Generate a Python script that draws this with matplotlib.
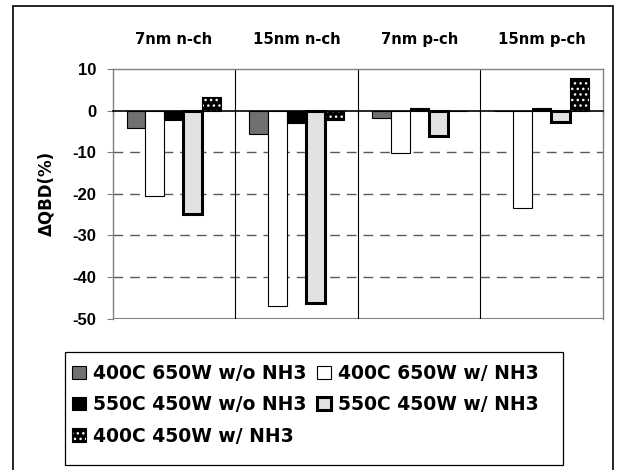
import matplotlib
matplotlib.use("Agg")
import matplotlib.pyplot as plt
from matplotlib.patches import Patch, Rectangle
from matplotlib.legend_handler import HandlerTuple
import numpy as np

plt.rcParams['font.family'] = ['DejaVu Sans']
plt.rcParams['font.weight'] = 'bold'
plt.rcParams['hatch.linewidth'] = 1.0

# data
groups = ["7nm n-ch", "15nm n-ch", "7nm p-ch", "15nm p-ch"]
labels = ["400C 650W w/o NH3", "400C 650W w/ NH3", "550C 450W w/o NH3",
          "550C 450W w/ NH3", "400C 450W w/ NH3"]
s1 = [-4.2, -5.7, -1.9, 0.0]
s2 = [-20.6, -47.0, -10.2, -23.4]
s3 = [-2.3, -3.1, 0.7, 0.7]
s4 = [-24.8, -46.2, -6.2, -2.7]
s5 = [3.3, -2.2, 0.0, 7.9]
yticks = [10, 0, -10, -20, -30, -40, -50]

fig = plt.figure(figsize=(6.21, 4.70), dpi=100)
ax = fig.add_axes([0.1815, 0.3223, 0.7895, 0.531])

x = np.arange(1, len(groups) + 1)
w = 0.155

# grid / dividers
for yv in [-10, -20, -30, -40]:
    ax.axhline(yv, color='#5a5a5a', lw=1.0, ls=(0, (7, 5)), zorder=0)
ax.axhline(-50, color='#808080', lw=1.5, zorder=0)
for xv in [1.5, 2.5, 3.5]:
    ax.axvline(xv, color='black', lw=0.8, zorder=0)

b1 = ax.bar(x - 2 * w, s1, w, color='#707070', edgecolor='black', lw=0.8, zorder=2)
b2 = ax.bar(x - w, s2, w, color='white', edgecolor='black', lw=0.8, zorder=2)
b3 = ax.bar(x, s3, w, color='black', edgecolor='black', lw=0.8, zorder=2)
b4 = ax.bar(x + w, s4, w, color='#e2e2e2', edgecolor='black', lw=2.2, zorder=2)
b5 = ax.bar(x + 2 * w, s5, w, color='black', edgecolor='white', hatch='...', lw=0, zorder=2)
ax.bar(x + 2 * w, s5, w, fill=False, edgecolor='black', lw=0.8, zorder=3)

ax.set_xlim(0.5, 4.5)
ax.set_ylim(-50, 10)
ax.set_yticks(yticks)
ax.set_yticklabels([str(v) for v in yticks], fontsize=12, fontweight='bold',
                   family=['Liberation Sans', 'DejaVu Sans'])
ax.tick_params(axis='y', direction='out', length=4.3, color='#808080', pad=7.5)

ax.spines['bottom'].set_position(('data', 0))
ax.spines['bottom'].set_color('black')
ax.spines['bottom'].set_linewidth(1.2)
ax.spines['bottom'].set_zorder(4)
for s in ['top', 'left', 'right']:
    ax.spines[s].set_color('#808080')
    ax.spines[s].set_linewidth(1.0)
ax.set_xticks([0.5, 1.5, 2.5, 3.5, 4.5])
ax.set_xticklabels([])
ax.tick_params(axis='x', direction='out', length=4, color='black')

for xi, g in zip(x, groups):
    ax.text(xi, 1.116, g, ha='center', va='center', fontsize=10.7, fontweight='bold',
            transform=ax.get_xaxis_transform())

ax.set_ylabel("ΔQBD(%)", fontsize=12, fontweight='bold')
ax.yaxis.set_label_coords(-0.1177, 0.5)

h5 = (Patch(facecolor='black', edgecolor='white', hatch='...', lw=0),
      Patch(fill=False, edgecolor='black', lw=0.8))
handles = [b1, b3, h5, b2, b4]
names = [labels[0], labels[2], labels[4], labels[1], labels[3]]
leg = fig.legend(handles, names, ncol=2, loc='upper left',
                 bbox_to_anchor=(0.1165, 0.226), bbox_transform=fig.transFigure,
                 prop={'size': 13.5, 'weight': 'bold'}, frameon=False,
                 handlelength=0.75, handleheight=0.7,
                 handletextpad=0.37, columnspacing=0.53, labelspacing=0.66,
                 borderpad=0, borderaxespad=0,
                 handler_map={tuple: HandlerTuple(ndivide=1)})

# legend frame and outer chart frame
fig.patches.append(Rectangle((65 / 621, 1 - 465 / 470), 498 / 621, 113 / 470,
                             transform=fig.transFigure, fill=False,
                             edgecolor='black', lw=0.9))
fig.patches.append(Rectangle((0.021, -0.01), 0.966, 0.997, transform=fig.transFigure,
                             fill=False, edgecolor='black', lw=1.2))

fig.savefig("out.png", dpi=100)
